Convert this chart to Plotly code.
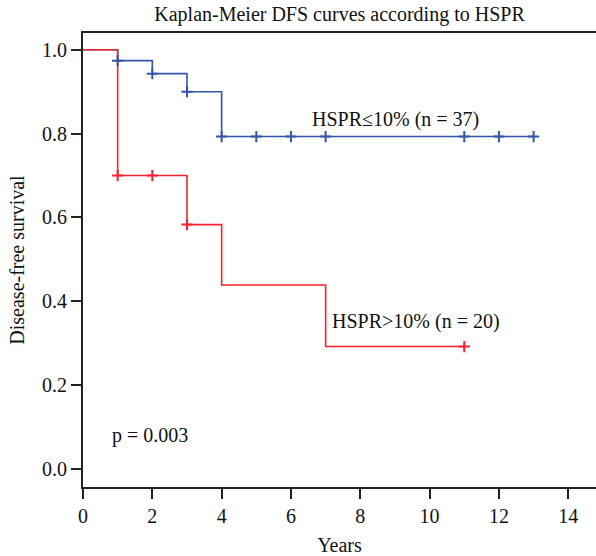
import plotly.graph_objects as go

# Data
blue_time = [0, 1, 2, 3, 4, 13]
blue_surv = [1.0, 0.974, 0.943, 0.900, 0.793, 0.793]
blue_cens_t = [1, 2, 3, 4, 5, 6, 7, 11, 12, 13]
blue_cens_s = [0.974, 0.943, 0.900, 0.793, 0.793, 0.793, 0.793, 0.793, 0.793, 0.793]

red_time = [0, 1, 3, 4, 7, 11]
red_surv = [1.0, 0.700, 0.583, 0.439, 0.292, 0.292]
red_cens_t = [1, 2, 3, 11]
red_cens_s = [0.700, 0.700, 0.583, 0.292]

x_ticks = [0, 2, 4, 6, 8, 10, 12, 14]
y_ticks = [0.0, 0.2, 0.4, 0.6, 0.8, 1.0]

BLUE = "#3553a8"
RED = "#f5222d"
FONT = "Liberation Serif"
FS = 20

fig = go.Figure()
fig.add_trace(go.Scatter(x=blue_time, y=blue_surv, mode="lines", line_shape="hv",
                         line=dict(color=BLUE, width=1.6), showlegend=False))
fig.add_trace(go.Scatter(x=red_time, y=red_surv, mode="lines", line_shape="hv",
                         line=dict(color=RED, width=1.6), showlegend=False))
fig.add_trace(go.Scatter(x=blue_cens_t, y=blue_cens_s, mode="markers",
                         marker=dict(symbol="cross-thin", size=8, line=dict(color=BLUE, width=2)),
                         showlegend=False))
fig.add_trace(go.Scatter(x=red_cens_t, y=red_cens_s, mode="markers",
                         marker=dict(symbol="cross-thin", size=8, line=dict(color=RED, width=2)),
                         showlegend=False))

fig.add_annotation(x=6.55, y=0.833, text="HSPR≤10% (n = 37)", showarrow=False,
                   xanchor="left", yanchor="middle", font=dict(family=FONT, size=FS, color="#111"))
fig.add_annotation(x=7.12, y=0.351, text="HSPR>10% (n = 20)", showarrow=False,
                   xanchor="left", yanchor="middle", font=dict(family=FONT, size=FS, color="#111"))
fig.add_annotation(x=0.77, y=0.081, text="p = 0.003", showarrow=False,
                   xanchor="left", yanchor="middle", font=dict(family=FONT, size=FS, color="#111"))

fig.update_layout(
    width=596, height=556,
    margin=dict(l=83, r=0, t=33, b=69),
    paper_bgcolor="white", plot_bgcolor="white",
    font=dict(family=FONT, size=FS, color="#111"),
    title=dict(text="Kaplan-Meier DFS curves according to HSPR", x=0.5, xref="paper",
               xanchor="center", y=1 - 14 / 556, yanchor="middle", yref="container",
               font=dict(family=FONT, size=FS, color="#111")),
    xaxis=dict(range=[0, 14.8], tickvals=x_ticks, showgrid=False, zeroline=False,
               showline=True, mirror=True, linecolor="#222", linewidth=2, ticks="outside",
               ticklen=10, tickwidth=2, tickcolor="#222", automargin=False,
               title=dict(text="Years", standoff=12, font=dict(family=FONT, size=FS))),
    yaxis=dict(range=[-0.043, 1.04], tickvals=y_ticks, tickformat=".1f", showgrid=False,
               zeroline=False, showline=True, linecolor="#222", linewidth=2,
               ticks="outside", ticklen=10, tickwidth=2, tickcolor="#222", automargin=False,
               title=dict(text="Disease-free survival", standoff=12,
                          font=dict(family=FONT, size=FS))),
)

fig.write_html("out.html", config={"displayModeBar": False},
               post_script="document.body.style.margin='0';document.body.style.overflow='hidden';")
